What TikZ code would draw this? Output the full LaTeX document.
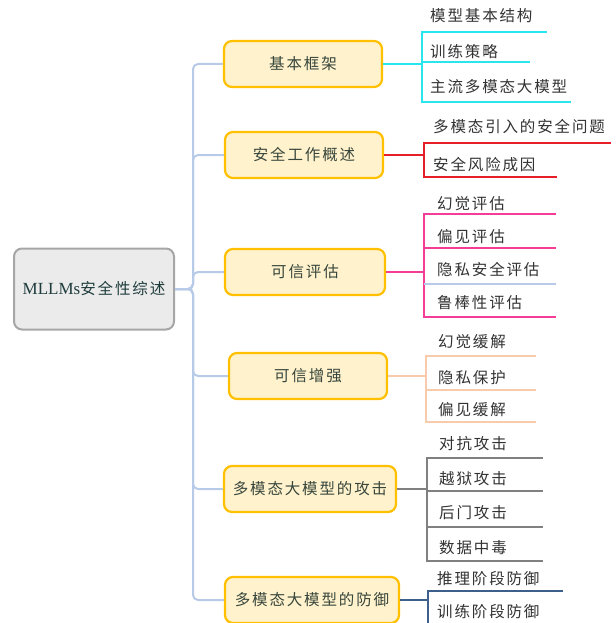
\documentclass[tikz,border=0pt]{standalone}
\usepackage{fontspec}
\setmainfont{Liberation Serif}
\newfontfamily\cjk[LetterSpace=12]{Noto Sans CJK SC}
\definecolor{trunkc}{RGB}{183,203,232}
\definecolor{boxfill}{RGB}{255,242,204}
\definecolor{boxborder}{RGB}{255,192,0}
\definecolor{rootfill}{RGB}{235,235,235}
\definecolor{rootborder}{RGB}{166,166,166}
\definecolor{roottext}{RGB}{30,60,60}
\definecolor{boxtext}{RGB}{55,70,60}
\definecolor{leaftext}{RGB}{50,50,50}
\definecolor{ccyan}{RGB}{40,230,240}
\definecolor{cred}{RGB}{230,30,40}
\definecolor{cpink}{RGB}{245,60,150}
\definecolor{cpeach}{RGB}{248,203,173}
\definecolor{cgray}{RGB}{128,128,128}
\definecolor{cnavy}{RGB}{60,95,140}
\begin{document}
\begin{tikzpicture}[x=1pt,y=-1pt,
  mainbox/.style={draw=boxborder, line width=2.2pt, fill=boxfill, rounded corners=8pt,
    minimum height=46pt, text=boxtext, font=\cjk\fontsize{15.5}{18}\selectfont, inner sep=0pt},
  rootbox/.style={draw=rootborder, line width=2pt, fill=rootfill, rounded corners=8pt,
    minimum width=160pt, minimum height=81pt, text=roottext, inner sep=0pt},
  leaf/.style={anchor=west, inner sep=0pt, text=leaftext, font=\cjk\fontsize{15.5}{18}\selectfont},
  trunk/.style={draw=trunkc, line width=2pt, rounded corners=5pt},
  conn/.style={line width=1.6pt}]
\useasboundingbox (0,0) rectangle (615,623);

% root
\node[rootbox] (root) at (94,289) {\fontsize{17}{20}\selectfont MLLMs{\cjk\fontsize{15.5}{18}\selectfont 安全性综述}};

% main boxes
\node[mainbox, minimum width=158pt] (b1) at (303,64) {基本框架};
\node[mainbox, minimum width=158pt] (b2) at (304,155) {安全工作概述};
\node[mainbox, minimum width=160pt] (b3) at (305,272) {可信评估};
\node[mainbox, minimum width=158pt] (b4) at (308,376) {可信增强};
\node[mainbox, minimum width=172pt] (b5) at (310,489) {多模态大模型的攻击};
\node[mainbox, minimum width=174pt] (b6) at (312,600) {多模态大模型的防御};

% trunk
\coordinate (tr) at (193,289);
\foreach \b in {b1,b2,b3,b4,b5,b6}{
  \draw[trunk] (root.east) -- (tr) |- (\b.west);
}

% leaves
\node[leaf] (l11) at (430,16) {模型基本结构};
\node[leaf] (l12) at (430,52) {训练策略};
\node[leaf] (l13) at (430,87) {主流多模态大模型};
\node[leaf] (l21) at (433,127) {多模态引入的安全问题};
\node[leaf] (l22) at (433,165) {安全风险成因};
\node[leaf] (l31) at (437,204) {幻觉评估};
\node[leaf] (l32) at (437,237) {偏见评估};
\node[leaf] (l33) at (437,270) {隐私安全评估};
\node[leaf] (l34) at (437,303) {鲁棒性评估};
\node[leaf] (l41) at (438,342) {幻觉缓解};
\node[leaf] (l42) at (438,378) {隐私保护};
\node[leaf] (l43) at (438,410) {偏见缓解};
\node[leaf] (l51) at (439,444) {对抗攻击};
\node[leaf] (l52) at (439,479) {越狱攻击};
\node[leaf] (l53) at (439,513) {后门攻击};
\node[leaf] (l54) at (439,548) {数据中毒};
\node[leaf] (l61) at (437,579) {推理阶段防御};
\node[leaf] (l62) at (437,612) {训练阶段防御};

% group 1
\coordinate (j1) at (422,64);
\coordinate (u11) at (547,32);
\coordinate (u12) at (530,62);
\coordinate (u13) at (571,102);
\draw[conn, ccyan] (b1.east) -- (j1);
\foreach \u in {u11,u12,u13} \draw[conn, ccyan] (j1) |- (\u);

% group 2
\coordinate (j2) at (424,155);
\coordinate (u21) at (611,143);
\coordinate (u22) at (557,177);
\draw[conn, cred] (b2.east) -- (j2);
\foreach \u in {u21,u22} \draw[conn, cred] (j2) |- (\u);

% group 3
\coordinate (j3) at (424,272);
\coordinate (u31) at (556,214);
\coordinate (u32) at (556,248);
\coordinate (u33) at (556,284);
\coordinate (u34) at (556,317);
\draw[conn, cpink] (b3.east) -- (j3);
\foreach \u in {u31,u32,u34} \draw[conn, cpink] (j3) |- (\u);
\draw[conn, trunkc] (j3 |- u33) -- (u33);

% group 4
\coordinate (j4) at (426,376);
\coordinate (u41) at (536,356);
\coordinate (u42) at (536,390);
\coordinate (u43) at (536,422);
\draw[conn, cpeach] (b4.east) -- (j4);
\foreach \u in {u41,u42,u43} \draw[conn, cpeach] (j4) |- (\u);

% group 5
\coordinate (j5) at (427,489);
\coordinate (u51) at (543,458);
\coordinate (u52) at (543,491);
\coordinate (u53) at (543,527);
\coordinate (u54) at (543,561);
\draw[conn, cgray] (b5.east) -- (j5);
\foreach \u in {u51,u52,u53,u54} \draw[conn, cgray] (j5) |- (\u);

% group 6
\coordinate (j6) at (428,600);
\coordinate (u61) at (563,591);
\coordinate (e6) at (428,623);
\draw[conn, cnavy] (b6.east) -- (j6);
\draw[conn, cnavy] (j6) |- (u61);
\draw[conn, cnavy] (j6) -- (e6);
\end{tikzpicture}
\end{document}
